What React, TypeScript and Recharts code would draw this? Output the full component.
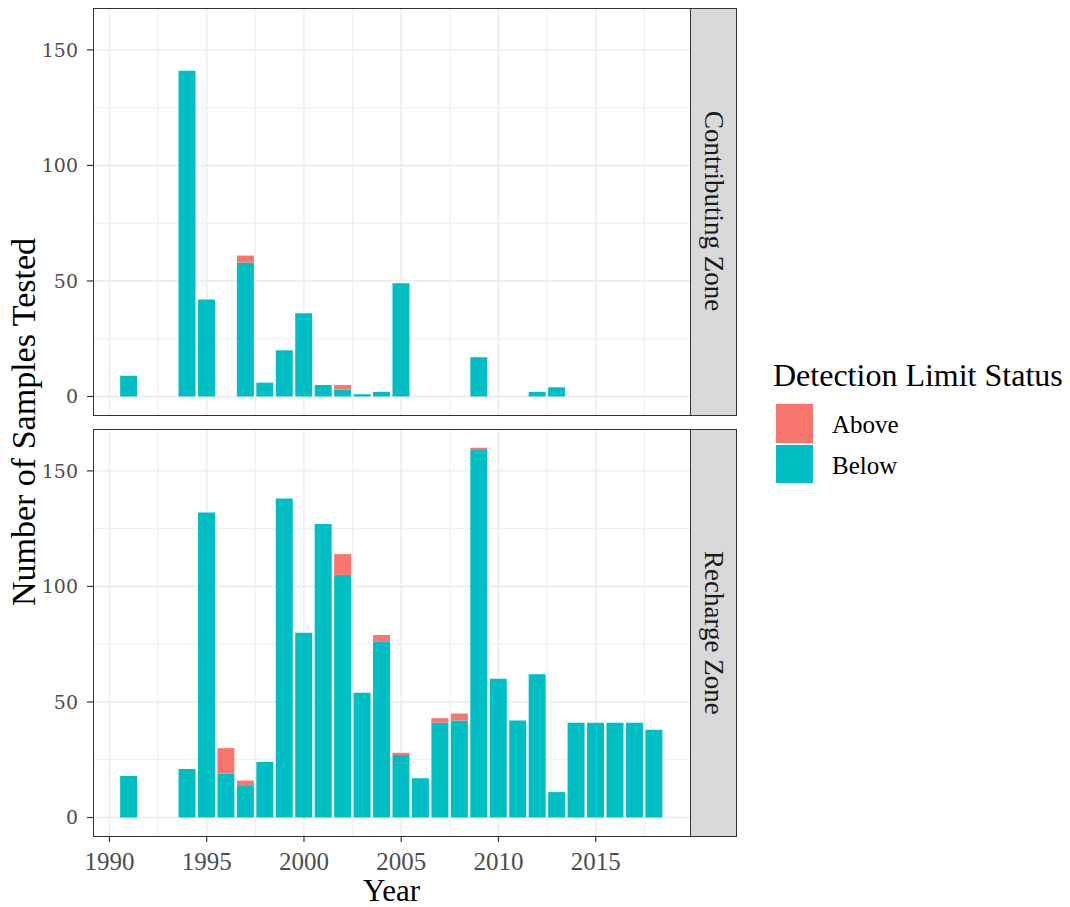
import React from 'react';
import { BarChart, Bar, XAxis, YAxis, CartesianGrid } from 'recharts';

const years = [1991, 1992, 1993, 1994, 1995, 1996, 1997, 1998, 1999, 2000, 2001, 2002, 2003, 2004, 2005, 2006, 2007, 2008, 2009, 2010, 2011, 2012, 2013, 2014, 2015, 2016, 2017, 2018];
const contributingBelow = [9, 0, 0, 141, 42, 0, 58, 6, 20, 36, 5, 3, 1, 2, 49, 0, 0, 0, 17, 0, 0, 2, 4, 0, 0, 0, 0, 0];
const contributingAbove = [0, 0, 0, 0, 0, 0, 3, 0, 0, 0, 0, 2, 0, 0, 0, 0, 0, 0, 0, 0, 0, 0, 0, 0, 0, 0, 0, 0];
const rechargeBelow = [18, 0, 0, 21, 132, 19, 14, 24, 138, 80, 127, 105, 54, 76, 27, 17, 41, 42, 159, 60, 42, 62, 11, 41, 41, 41, 41, 38];
const rechargeAbove = [0, 0, 0, 0, 0, 11, 2, 0, 0, 0, 0, 9, 0, 3, 1, 0, 2, 3, 1, 0, 0, 0, 0, 0, 0, 0, 0, 0];

const yTicks = [0, 50, 100, 150];
const yMinor = [25, 75, 125];
const xTicks = [1990, 1995, 2000, 2005, 2010, 2015];
const xMinor = [1992.5, 1997.5, 2002.5, 2007.5, 2012.5, 2017.5];
const panels = ['Contributing Zone', 'Recharge Zone'];
const legendItems = ['Above', 'Below'];

const X_DOMAIN: [number, number] = [1989.155, 2019.845];
const Y_DOMAIN: [number, number] = [-8, 168];
const BELOW = '#00BFC4';
const ABOVE = '#F8766D';
const SERIF = '"Liberation Serif", "Times New Roman", serif';

const build = (below: number[], above: number[]) =>
  years.map((y, i) => ({ year: y, below: below[i] || null, above: above[i] || null }));

const topData = build(contributingBelow, contributingAbove);
const bottomData = build(rechargeBelow, rechargeAbove);

const yTickStyle = { fontFamily: '"DejaVu Serif", serif', fontSize: 19, fill: '#4D4D4D' };
const xTickStyle = { fontFamily: SERIF, fontSize: 25, fill: '#4D4D4D' };

function Panel({ data, showX, height, marginTop, marginBottom }: any) {
  return (
    <BarChart width={690} height={height} data={data} margin={{ top: marginTop, right: 0, bottom: marginBottom, left: 0 }}>
      <CartesianGrid horizontalValues={yMinor} verticalValues={xMinor} stroke="#EBEBEB" strokeWidth={0.9} />
      <CartesianGrid horizontalValues={yTicks} verticalValues={xTicks} stroke="#EBEBEB" strokeWidth={1.4} />
      <XAxis
        type="number"
        dataKey="year"
        domain={X_DOMAIN}
        ticks={xTicks}
        hide={!showX}
        height={71}
        axisLine={false}
        tickSize={6}
        tickMargin={10}
        tickLine={{ stroke: '#333333', strokeWidth: 1.2 }}
        tick={xTickStyle}
        interval={0}
        allowDataOverflow
      />
      <YAxis
        type="number"
        domain={Y_DOMAIN}
        ticks={yTicks}
        width={93}
        axisLine={false}
        tickSize={6}
        tickMargin={9}
        tickLine={{ stroke: '#333333', strokeWidth: 1.2 }}
        tick={yTickStyle}
        interval={0}
        allowDataOverflow
      />
      <Bar dataKey="below" stackId="s" fill={BELOW} barSize={17} isAnimationActive={false} />
      <Bar dataKey="above" stackId="s" fill={ABOVE} barSize={17} isAnimationActive={false} />
    </BarChart>
  );
}

function Strip({ top, height, label }: any) {
  return (
    <div
      style={{
        position: 'absolute', left: 689.5, top, width: 47.5, height,
        background: '#D9D9D9', border: '1.5px solid #333333', boxSizing: 'border-box',
        display: 'flex', alignItems: 'center', justifyContent: 'center',
      }}
    >
      <span style={{ writingMode: 'vertical-rl', fontFamily: SERIF, fontSize: 27, color: '#1A1A1A', whiteSpace: 'nowrap' }}>{label}</span>
    </div>
  );
}

function Border({ top, height }: any) {
  return (
    <div style={{ position: 'absolute', left: 92.5, top, width: 598, height, border: '1.5px solid #333333', boxSizing: 'border-box', pointerEvents: 'none' }} />
  );
}

export default function App() {
  return (
    <div style={{ position: 'absolute', left: 0, top: 0, width: 1070, height: 907, background: '#ffffff', overflow: 'hidden' }}>
      <div style={{ position: 'absolute', left: 0, top: 0 }}>
        <Panel data={topData} showX={false} height={420} marginTop={8.3} marginBottom={5} />
      </div>
      <div style={{ position: 'absolute', left: 0, top: 420 }}>
        <Panel data={bottomData} showX={true} height={487} marginTop={9.3} marginBottom={0} />
      </div>
      <Border top={7.6} height={408} />
      <Border top={428.6} height={408} />
      <Strip top={7.6} height={408} label={panels[0]} />
      <Strip top={428.6} height={408} label={panels[1]} />

      <div style={{ position: 'absolute', left: 24, top: 422, transform: 'translate(-50%, -50%) rotate(-90deg)', fontFamily: SERIF, fontSize: 34, color: '#000', whiteSpace: 'nowrap', lineHeight: 1 }}>
        Number of Samples Tested
      </div>
      <div style={{ position: 'absolute', left: 391.5, top: 875, transform: 'translateX(-50%)', fontFamily: SERIF, fontSize: 31, color: '#000', whiteSpace: 'nowrap', lineHeight: 1 }}>
        Year
      </div>

      <div style={{ position: 'absolute', left: 773, top: 359, fontFamily: SERIF, fontSize: 32, color: '#000', whiteSpace: 'nowrap', lineHeight: 1 }}>
        Detection Limit Status
      </div>
      {legendItems.map((name, i) => (
        <div key={name}>
          <div style={{ position: 'absolute', left: 776, top: 404 + i * 40.5, width: 37, height: 38.5, background: i === 0 ? ABOVE : BELOW }} />
          <div style={{ position: 'absolute', left: 832, top: 412 + i * 40.5, fontFamily: SERIF, fontSize: 25, color: '#000', whiteSpace: 'nowrap', lineHeight: 1 }}>
            {name}
          </div>
        </div>
      ))}
    </div>
  );
}
